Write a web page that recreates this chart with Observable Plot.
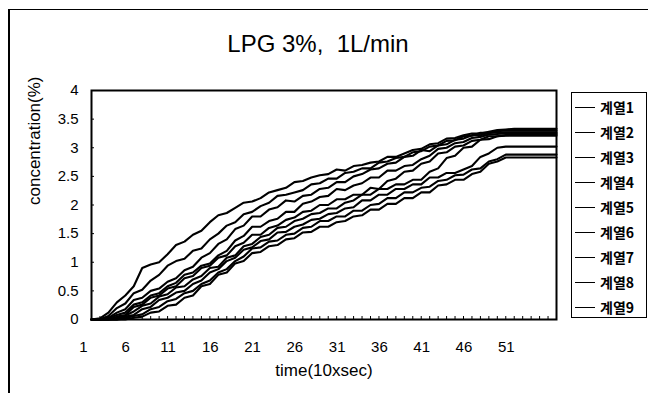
<!DOCTYPE html>
<html><head><meta charset="utf-8">
<script src="https://cdn.jsdelivr.net/npm/d3@7"></script>
<script src="https://cdn.jsdelivr.net/npm/@observablehq/plot@0.6"></script>
<style>
body{margin:0;background:#fff;}
#wrap{position:relative;width:648px;height:393px;overflow:hidden;font-family:"Liberation Sans",Arial,sans-serif;color:#000;}
#frame{position:absolute;left:8px;top:9px;width:700px;height:500px;border-top:1.5px solid #000;border-left:2px solid #000;}
#title{position:absolute;left:0;top:30px;width:636px;text-align:center;font-size:24px;line-height:28px;white-space:pre;}
#chart{position:absolute;left:0;top:0;}
#legend{position:absolute;left:571px;top:92px;width:76px;height:226px;border:1.5px solid #000;box-sizing:border-box;}
.item{position:absolute;left:3px;height:20px;display:flex;align-items:center;}
.swatch{width:20px;border-top:1.6px solid #000;margin-right:5px;}
.lab{font-family:"Noto Sans CJK KR","Liberation Sans",sans-serif;font-size:14px;font-weight:bold;}
</style>
</head><body>
<div id="wrap">
  <div id="frame"></div>
  <div id="title"></div>
  <div id="chart"></div>
  <div id="legend"></div>
</div>
<script>
const titleText = "LPG 3%,  1L/min";
const xTitle = "time(10xsec)";
const yTitle = "concentration(%)";
const seriesNames = ["계열1","계열2","계열3","계열4","계열5","계열6","계열7","계열8","계열9"];
const time = [1,2,3,4,5,6,7,8,9,10,11,12,13,14,15,16,17,18,19,20,21,22,23,24,25,26,27,28,29,30,31,32,33,34,35,36,37,38,39,40,41,42,43,44,45,46,47,48,49,50,51,52,53,54,55,56];
const xTicks = [1,6,11,16,21,26,31,36,41,46,51];
const yTicks = [0,0.5,1,1.5,2,2.5,3,3.5,4];
const yTickLabels = ["0","0.5","1","1.5","2","2.5","3","3.5","4"];

const s1 = [0,0.02,0.12,0.3,0.42,0.58,0.9,0.96,1.0,1.14, 1.3,1.36,1.48,1.55,1.7,1.82,1.86,1.95,2.04,2.06, 2.12,2.22,2.26,2.3,2.4,2.42,2.48,2.52,2.54,2.62, 2.6,2.68,2.7,2.74,2.76,2.84,2.84,2.9,2.96,2.98, 3.06,3.08,3.16,3.17,3.22,3.25,3.25,3.28,3.31,3.32, 3.33,3.33,3.33,3.33,3.33,3.33];
const s2 = [0,0,0.06,0.2,0.28,0.46,0.52,0.68,0.78,0.94, 1.02,1.06,1.2,1.24,1.4,1.5,1.64,1.7,1.84,1.88, 1.98,2.04,2.16,2.18,2.22,2.26,2.36,2.38,2.46,2.46, 2.56,2.58,2.64,2.64,2.74,2.76,2.82,2.84,2.92,2.94, 3.02,3.04,3.12,3.13,3.2,3.21,3.26,3.26,3.29,3.3, 3.3,3.3,3.3,3.3,3.3,3.3];
const s3 = [0,0,0.03,0.12,0.18,0.34,0.38,0.5,0.54,0.66, 0.72,0.86,0.92,1.08,1.16,1.32,1.4,1.58,1.64,1.8, 1.8,1.92,1.96,2.08,2.06,2.16,2.18,2.28,2.3,2.4, 2.4,2.5,2.54,2.62,2.64,2.72,2.74,2.84,2.86,2.96, 2.94,3.04,3.06,3.14,3.16,3.22,3.22,3.26,3.27,3.27, 3.27,3.27,3.27,3.27,3.27,3.27];
const s4 = [0,0,0.02,0.08,0.12,0.26,0.3,0.42,0.46,0.58, 0.64,0.78,0.82,0.94,0.98,1.12,1.2,1.38,1.46,1.62, 1.62,1.72,1.76,1.88,1.88,2.02,2.06,2.14,2.16,2.28, 2.26,2.34,2.38,2.48,2.48,2.6,2.6,2.68,2.7,2.8, 2.86,2.98,3.0,3.08,3.1,3.17,3.19,3.23,3.24,3.25, 3.25,3.25,3.25,3.25,3.25,3.25];
const s5 = [0,0,0,0.05,0.08,0.22,0.26,0.38,0.42,0.54, 0.58,0.72,0.76,0.9,0.94,1.08,1.12,1.28,1.34,1.48, 1.48,1.6,1.64,1.74,1.78,1.88,1.9,2.0,2.0,2.1, 2.1,2.18,2.18,2.3,2.28,2.42,2.46,2.58,2.6,2.72, 2.76,2.9,2.92,3.02,3.04,3.12,3.14,3.2,3.2,3.22, 3.23,3.23,3.23,3.23,3.23,3.23];
const s6 = [0,0,0,0.02,0.07,0.14,0.24,0.28,0.4,0.44, 0.56,0.58,0.7,0.76,0.9,0.92,1.08,1.12,1.28,1.32, 1.44,1.48,1.6,1.62,1.72,1.76,1.84,1.86,1.94,1.94, 2.04,2.08,2.18,2.18,2.28,2.28,2.36,2.36,2.44,2.44, 2.58,2.64,2.82,2.86,3.0,3.02,3.14,3.15,3.2,3.21, 3.21,3.21,3.21,3.21,3.21,3.21];
const s7 = [0,0,0,0,0.05,0.08,0.18,0.22,0.34,0.38, 0.47,0.5,0.62,0.68,0.82,0.88,1.02,1.08,1.22,1.26, 1.37,1.4,1.52,1.53,1.62,1.66,1.74,1.76,1.84,1.86, 1.94,1.96,2.08,2.08,2.18,2.18,2.28,2.28,2.36,2.36, 2.48,2.48,2.56,2.56,2.62,2.68,2.84,2.9,3.0,3.02, 3.02,3.02,3.02,3.02,3.02,3.02];
const s8 = [0,0,0,0,0.02,0.06,0.09,0.18,0.22,0.32, 0.36,0.46,0.5,0.62,0.68,0.82,0.88,1.02,1.1,1.24, 1.26,1.36,1.38,1.48,1.5,1.6,1.62,1.72,1.72,1.8, 1.8,1.9,1.9,2.0,2.02,2.12,2.12,2.22,2.22,2.3, 2.32,2.42,2.44,2.52,2.53,2.62,2.64,2.76,2.8,2.88, 2.88,2.88,2.88,2.88,2.88,2.88];
const s9 = [0,0,0,0,0,0.03,0.05,0.12,0.14,0.24, 0.26,0.38,0.42,0.58,0.62,0.78,0.82,0.98,1.02,1.16, 1.18,1.28,1.3,1.4,1.42,1.52,1.53,1.62,1.62,1.7, 1.72,1.8,1.82,1.92,1.92,2.02,2.02,2.12,2.12,2.22, 2.22,2.34,2.36,2.44,2.44,2.54,2.58,2.72,2.76,2.83, 2.83,2.83,2.83,2.83,2.83,2.83];
const seriesValues = [s1,s2,s3,s4,s5,s6,s7,s8,s9];

const data = seriesNames.flatMap((name, i) => seriesValues[i].map((v, j) => ({t: time[j], c: v, s: name})));

document.getElementById("title").textContent = titleText;

const chart = Plot.plot({
  width: 648,
  height: 393,
  marginLeft: 91,
  marginRight: 92,
  marginTop: 90,
  marginBottom: 74,
  style: {fontFamily: '"Liberation Sans", Arial, sans-serif', fontSize: "15px", color: "#000", background: "transparent"},
  x: {type: "linear", domain: [1, 56]},
  y: {domain: [0, 4]},
  marks: [
    Plot.line(data, {x: "t", y: "c", z: "s", stroke: "#000", strokeWidth: 2.1, strokeLinejoin: "round"}),
    Plot.frame({stroke: "#000", strokeWidth: 2}),
    Plot.axisX({ticks: time, tickSize: 3, dy: -3, text: null, label: null, stroke: "#000"}),
    Plot.axisX({ticks: xTicks, tickSize: 0, tickPadding: 22, dx: -8, tickFormat: d => String(d), label: null, fontSize: 15}),
    Plot.axisY({ticks: yTicks, tickSize: 3, dx: 3, text: null, label: null, stroke: "#000"}),
    Plot.axisY({ticks: yTicks, tickSize: 0, tickPadding: 13, tickFormat: (d, i) => yTickLabels[i], label: null, fontSize: 15}),
    Plot.text([xTitle], {frameAnchor: "bottom", dy: 56, text: d => d, fontSize: 17}),
    Plot.text([yTitle], {frameAnchor: "left", dx: -57, rotate: -90, text: d => d, fontSize: 17})
  ]
});
document.getElementById("chart").appendChild(chart);

const legend = document.getElementById("legend");
seriesNames.forEach((name, i) => {
  const it = document.createElement("div");
  it.className = "item";
  it.style.top = (4 + i * 25) + "px";
  const sw = document.createElement("span"); sw.className = "swatch";
  const lb = document.createElement("span"); lb.className = "lab"; lb.textContent = name;
  it.appendChild(sw); it.appendChild(lb);
  legend.appendChild(it);
});
</script>
</body></html>
